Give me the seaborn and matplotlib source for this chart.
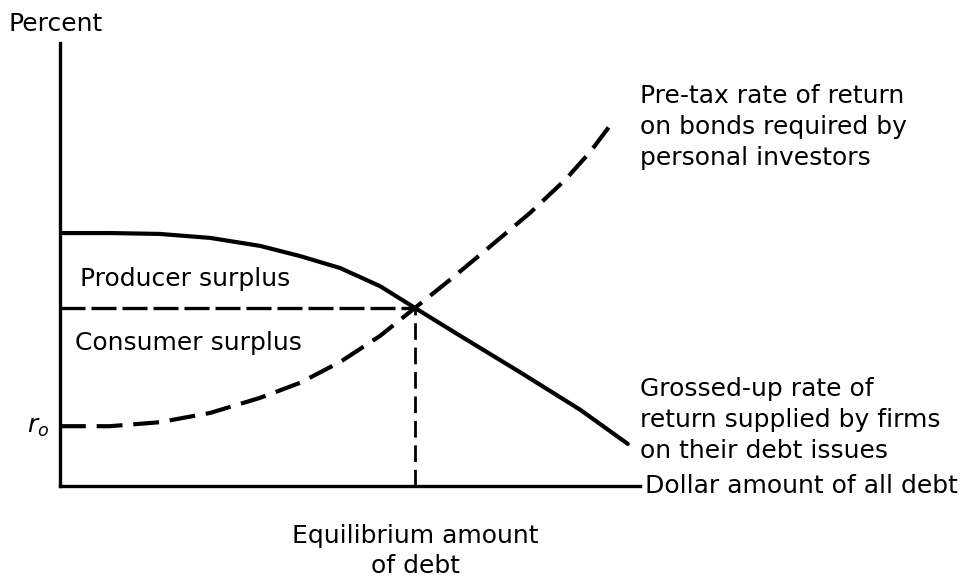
import numpy as np
import pandas as pd
import seaborn as sns
import matplotlib.pyplot as plt

# curves (x: amount of debt, y: percent, both 0-100)
supply_x = [0, 8.6, 17.2, 25.9, 34.5, 41.4, 48.3, 55.2, 61.2, 69.0, 79.3, 89.7, 97.9]
supply_y = [57.1, 57.1, 56.9, 56.0, 54.2, 51.9, 49.2, 45.1, 40.2, 33.9, 25.7, 17.2, 9.5]
demand_x = [0, 8.6, 17.2, 25.9, 34.5, 41.4, 48.3, 55.2, 61.2, 67.2, 74.1, 81.0, 87.1, 91.4, 94.8]
demand_y = [13.5, 13.5, 14.4, 16.5, 19.9, 23.3, 28.0, 33.9, 40.2, 46.5, 54.0, 61.6, 69.1, 75.4, 81.3]
eq_x, eq_y = 61.2, 40.2

supply_label = "Grossed-up rate of\nreturn supplied by firms\non their debt issues"
demand_label = "Pre-tax rate of return\non bonds required by\npersonal investors"

sns.set_theme(style="white")
plt.rcParams['font.family'] = ['DejaVu Sans']
plt.rcParams['text.color'] = 'black'

fig = plt.figure(figsize=(9.72, 5.84), dpi=100)
ax = fig.add_axes([60 / 972, 98 / 584, 580 / 972, 443 / 584])

sns.lineplot(x=supply_x, y=supply_y, sort=False, estimator=None,
             color="black", linewidth=3, ax=ax)
ax.lines[-1].set_solid_capstyle("round")
ax.lines[-1].set_solid_joinstyle("round")
sns.lineplot(x=demand_x, y=demand_y, sort=False, estimator=None,
             color="black", linewidth=3, ax=ax)
ax.lines[-1].set_dashes((6.2, 2.6))

ax.plot([0, eq_x], [eq_y, eq_y], color="black", linewidth=2.4, dashes=(7.5, 1.8))
ax.plot([eq_x, eq_x], [0, eq_y], color="black", linewidth=2, dashes=(6, 2.8))

ax.set_xlim(0, 100)
ax.set_ylim(0, 100)
ax.set_xticks([])
ax.set_yticks([])
for s in ["top", "right"]:
    ax.spines[s].set_visible(False)
for s in ["left", "bottom"]:
    ax.spines[s].set_color("black")
    ax.spines[s].set_linewidth(2.4)

fs = 18
fig.text(8 / 972, 1 - 24 / 584, "Percent", fontsize=fs, va="center", ha="left")
fig.text(80 / 972, 1 - 279 / 584, "Producer surplus", fontsize=fs, va="center")
fig.text(75 / 972, 1 - 343 / 584, "Consumer surplus", fontsize=fs, va="center")
fig.text(49 / 972, 1 - 427 / 584, r"$r_o$", fontsize=fs, va="center", ha="right")
fig.text(640 / 972, 1 - 127 / 584, demand_label, fontsize=fs, va="center",
         linespacing=1.35)
fig.text(640 / 972, 1 - 420 / 584, supply_label, fontsize=fs, va="center",
         linespacing=1.35)
fig.text(645 / 972, 1 - 486 / 584, "Dollar amount of all debt", fontsize=fs,
         va="center")
fig.text(415 / 972, 1 - 551 / 584, "Equilibrium amount\nof debt", fontsize=fs,
         va="center", ha="center", linespacing=1.35)

fig.savefig("out.png", dpi=100)
